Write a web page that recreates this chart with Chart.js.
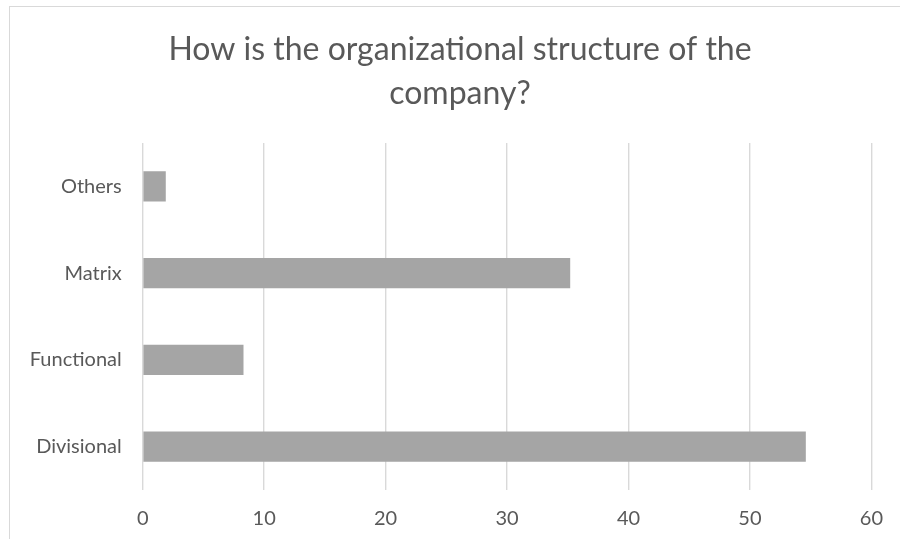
<!DOCTYPE html>
<html>
<head>
<meta charset="utf-8">
<script src="https://cdn.jsdelivr.net/npm/chart.js@4.4.1/dist/chart.umd.min.js"></script>
<style>
  html, body { margin: 0; padding: 0; background: #fff; }
  #wrap { position: relative; width: 900px; height: 539px; }
  #frame {
    position: absolute; left: 9px; top: 6px; right: -5px; bottom: -5px;
    border-left: 1.5px solid #d9d9d9; border-top: 1.5px solid #d9d9d9;
    pointer-events: none;
  }
</style>
</head>
<body>
<div id="wrap">
  <canvas id="orgChart" width="900" height="539"></canvas>
  <div id="frame"></div>
</div>
<script>
// Chart data (Excel order: bottom to top)
var categories = ["Divisional", "Functional", "Matrix", "Others"];
var shares = [54.6, 8.3, 35.2, 1.9];
var xTicks = [0, 10, 20, 30, 40, 50, 60];
var titleLines = ["How is the organizational structure of the", "company?"];

var textColor = "#595959";
var gridColor = "#d9d9d9";
var fontName = "Lato";

var ctx = document.getElementById("orgChart");

var chartData = {
    labels: categories,
    datasets: [{
        label: "Share",
        data: shares,
        backgroundColor: "#a5a5a5",
        borderWidth: 0,
        barPercentage: 0.35,
        categoryPercentage: 1.0
    }]
};

var config = {
    type: "bar",
    data: chartData,
    options: {
        indexAxis: "y",
        responsive: false,
        animation: false,
        layout: { padding: { left: 20, right: 0, top: 0, bottom: 0 } },
        plugins: {
            legend: { display: false },
            tooltip: { enabled: false },
            title: {
                display: true,
                text: titleLines,
                color: textColor,
                font: { family: fontName, size: 32, weight: "normal", lineHeight: 1.36 },
                padding: { top: 28, bottom: 28 }
            }
        },
        scales: {
            x: {
                min: 0,
                max: 60,
                afterBuildTicks: function(scale) {
                    scale.ticks = xTicks.map(function(v) { return { value: v }; });
                },
                afterFit: function(scale) { scale.height = 49; },
                border: { display: false },
                grid: { color: gridColor, lineWidth: 1.4, drawTicks: false },
                ticks: {
                    color: textColor,
                    padding: 17,
                    font: { family: fontName, size: 20 }
                }
            },
            y: {
                reverse: true,
                afterFit: function(scale) { scale.width = 122.7; },
                border: { display: false },
                grid: { display: false, drawTicks: false },
                ticks: {
                    color: textColor,
                    padding: 21,
                    font: { family: fontName, size: 20 }
                }
            },
            // empty right-hand margin so the plot ends at 60 like the reference
            yRight: {
                position: "right",
                afterFit: function(scale) { scale.width = 28; },
                border: { display: false },
                grid: { display: false, drawTicks: false },
                ticks: { display: false }
            }
        }
    }
};

var barChart = new Chart(ctx, config);
</script>
</body>
</html>
